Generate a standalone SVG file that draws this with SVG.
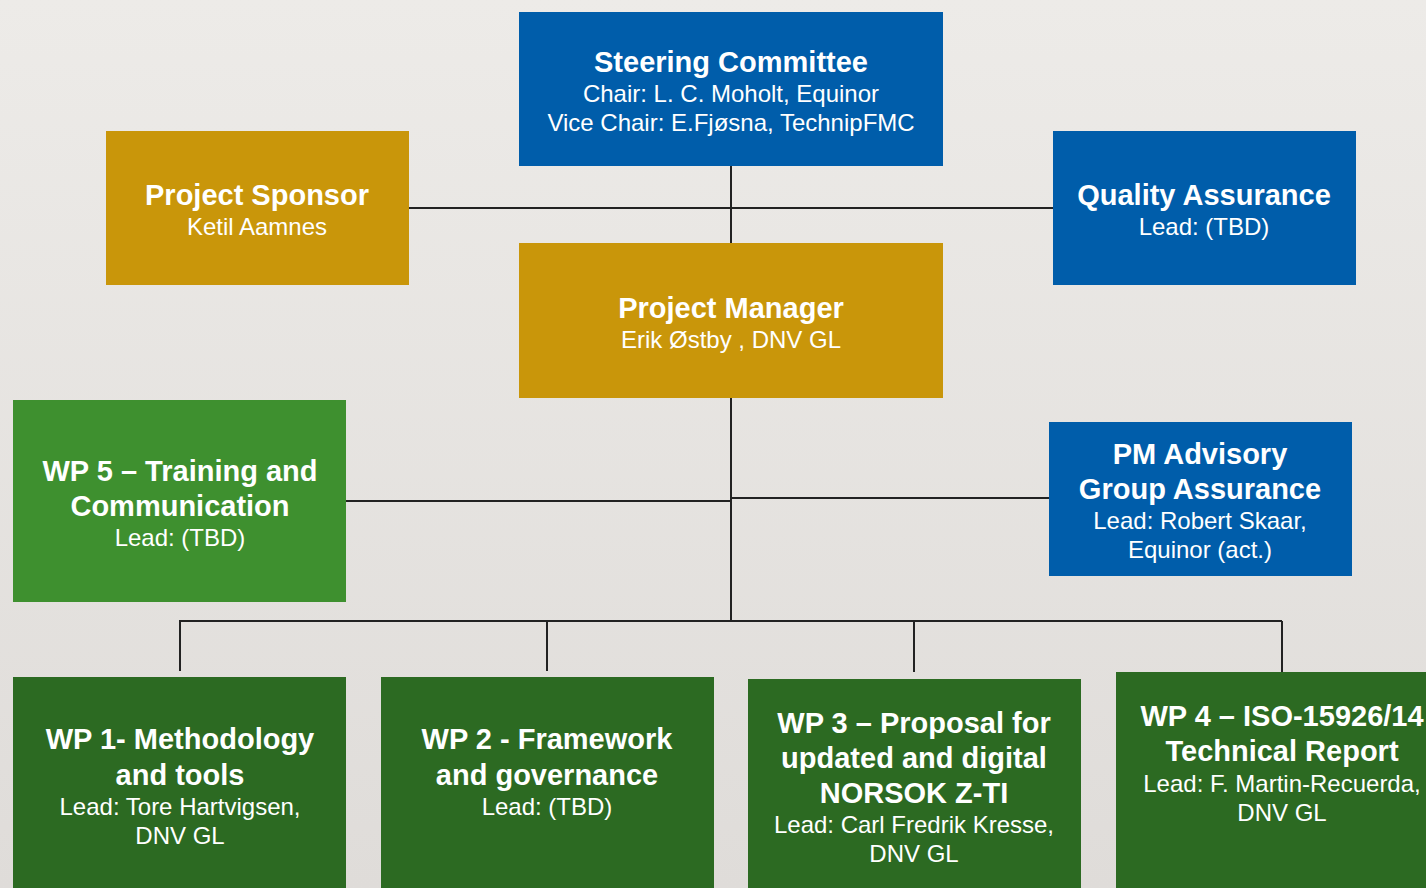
<svg xmlns="http://www.w3.org/2000/svg" width="1426" height="888" viewBox="0 0 1426 888">
<defs>
<linearGradient id="bg" x1="0" y1="0" x2="0" y2="1">
<stop offset="0" stop-color="#EDEBE8"/>
<stop offset="1" stop-color="#DFDCD9"/>
</linearGradient>
<style>
.blue{fill:#005DAA}
.gold{fill:#C9960A}
.lgreen{fill:#3E902F}
.dgreen{fill:#2C6A22}
.t{font-family:"Liberation Sans",Arial,sans-serif;font-weight:bold;font-size:29px;fill:#fff;text-anchor:middle}
.s{font-family:"Liberation Sans",Arial,sans-serif;font-size:24px;fill:#fff;text-anchor:middle}
.c{stroke:#222;stroke-width:2;fill:none}
</style>
</defs>
<rect width="1426" height="888" fill="url(#bg)"/>
<g id="connectors">
<line class="c" x1="731" y1="166" x2="731" y2="243"/>
<line class="c" x1="409" y1="208" x2="1053" y2="208"/>
<line class="c" x1="731" y1="398" x2="731" y2="621"/>
<line class="c" x1="346" y1="501" x2="731" y2="501"/>
<line class="c" x1="731" y1="498" x2="1049" y2="498"/>
<line class="c" x1="179" y1="621" x2="1282" y2="621"/>
<line class="c" x1="180" y1="621" x2="180" y2="671"/>
<line class="c" x1="547" y1="621" x2="547" y2="671"/>
<line class="c" x1="914" y1="621" x2="914" y2="672"/>
<line class="c" x1="1282" y1="621" x2="1282" y2="672"/>
</g>
<g id="steering">
<rect class="blue" x="519" y="12" width="424" height="154"/>
<text class="t" x="731" y="72">Steering Committee</text>
<text class="s" x="731" y="102">Chair: L. C. Moholt, Equinor</text>
<text class="s" x="731" y="131">Vice Chair: E.Fjøsna, TechnipFMC</text>
</g>
<g id="sponsor">
<rect class="gold" x="106" y="131" width="303" height="154"/>
<text class="t" x="257" y="205">Project Sponsor</text>
<text class="s" x="257" y="235">Ketil Aamnes</text>
</g>
<g id="qa">
<rect class="blue" x="1053" y="131" width="303" height="154"/>
<text class="t" x="1204" y="205">Quality Assurance</text>
<text class="s" x="1204" y="235">Lead: (TBD)</text>
</g>
<g id="pm">
<rect class="gold" x="519" y="243" width="424" height="155"/>
<text class="t" x="731" y="318">Project Manager</text>
<text class="s" x="731" y="348">Erik Østby , DNV GL</text>
</g>
<g id="wp5">
<rect class="lgreen" x="13" y="400" width="333" height="202"/>
<text class="t" x="180" y="481">WP 5 – Training and</text>
<text class="t" x="180" y="516">Communication</text>
<text class="s" x="180" y="546">Lead: (TBD)</text>
</g>
<g id="advisory">
<rect class="blue" x="1049" y="422" width="303" height="154"/>
<text class="t" x="1200" y="464">PM Advisory</text>
<text class="t" x="1200" y="499">Group Assurance</text>
<text class="s" x="1200" y="529">Lead: Robert Skaar,</text>
<text class="s" x="1200" y="558">Equinor (act.)</text>
</g>
<g id="wp1">
<rect class="dgreen" x="13" y="677" width="333" height="211"/>
<text class="t" x="180" y="749">WP 1- Methodology</text>
<text class="t" x="180" y="785">and tools</text>
<text class="s" x="180" y="815">Lead: Tore Hartvigsen,</text>
<text class="s" x="180" y="844">DNV GL</text>
</g>
<g id="wp2">
<rect class="dgreen" x="381" y="677" width="333" height="211"/>
<text class="t" x="547" y="749">WP 2 - Framework</text>
<text class="t" x="547" y="785">and governance</text>
<text class="s" x="547" y="815">Lead: (TBD)</text>
</g>
<g id="wp3">
<rect class="dgreen" x="748" y="679" width="333" height="209"/>
<text class="t" x="914" y="733">WP 3 – Proposal for</text>
<text class="t" x="914" y="768">updated and digital</text>
<text class="t" x="914" y="803">NORSOK Z-TI</text>
<text class="s" x="914" y="833">Lead: Carl Fredrik Kresse,</text>
<text class="s" x="914" y="862">DNV GL</text>
</g>
<g id="wp4">
<rect class="dgreen" x="1116" y="672" width="320" height="216"/>
<text class="t" x="1282" y="726">WP 4 – ISO-15926/14</text>
<text class="t" x="1282" y="761">Technical Report</text>
<text class="s" x="1282" y="792">Lead: F. Martin-Recuerda,</text>
<text class="s" x="1282" y="821">DNV GL</text>
</g>
</svg>
